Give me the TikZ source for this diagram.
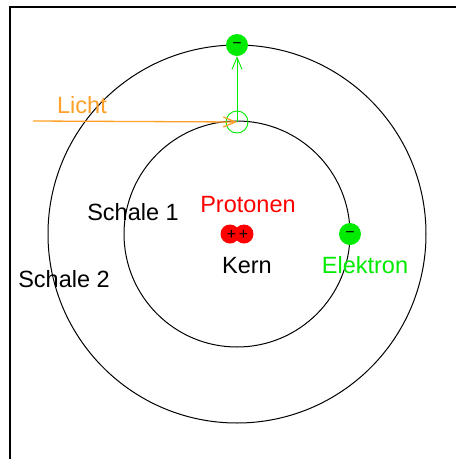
\documentclass[tikz,border=0pt]{standalone}
\usepackage{fontspec}
\setmainfont{Liberation Sans}
\usetikzlibrary{arrows.meta}
\definecolor{egreen}{RGB}{0,235,0}
\definecolor{lorange}{RGB}{255,160,40}
\definecolor{pred}{RGB}{255,0,0}
\begin{document}
\begin{tikzpicture}[x=1pt,y=-1pt,
  lbl/.style={inner sep=0pt, font=\fontsize{23.5}{24}\selectfont},
  shell/.style={circle, draw=black, line width=1pt, inner sep=0pt},
  electron/.style={circle, fill=egreen, minimum size=22pt, inner sep=0pt},
  proton/.style={circle, fill=pred, minimum size=19pt, inner sep=0pt},
  sign/.style={inner sep=0pt, font=\fontsize{16}{16}\selectfont},
  hole/.style={circle, draw=egreen, line width=0.9pt, minimum size=22pt, inner sep=0pt},
  barb/.style={-{Straight Barb[length=12pt,width=10pt]}}]
\useasboundingbox (0,0) rectangle (456,459);
\fill[white] (0,0) rectangle (456,459);
\draw[line width=1.5pt] (10,459) -- (10,7) -- (456,7);
\node[shell, minimum size=226pt] (s1) at (237,234) {};
\node[shell, minimum size=378pt] (s2) at (237,234) {};
\node[electron] (e1) at (237,45) {};
\node[electron] (e2) at (350,234) {};
\node[sign] (m1) at (237,46) {−};
\node[sign] (m2) at (350,235) {−};
\node[hole] (h) at (237,122) {};
\node[proton] (p1) at (230,234) {};
\node[proton] (p2) at (244,234) {};
\node[sign] (pl1) at (231.5,235) {+};
\node[sign] (pl2) at (243.5,235) {+};
\coordinate (ls) at (33,121);
\draw[egreen, line width=0.9pt, barb] (h.center) -- (e1.south);
\draw[lorange, line width=1.3pt, barb] (ls) -- (h.center);
\node[lbl, text=lorange] (licht) at (82,105) {Licht};
\node[lbl, text=pred] (prot) at (248,204.5) {Protonen};
\node[lbl] (kern) at (247,266) {Kern};
\node[lbl] (sch1) at (133,212) {Schale 1};
\node[lbl] (sch2) at (64,279) {Schale 2};
\node[lbl, text=egreen] (elek) at (365,265) {Elektron};
\end{tikzpicture}
\end{document}
